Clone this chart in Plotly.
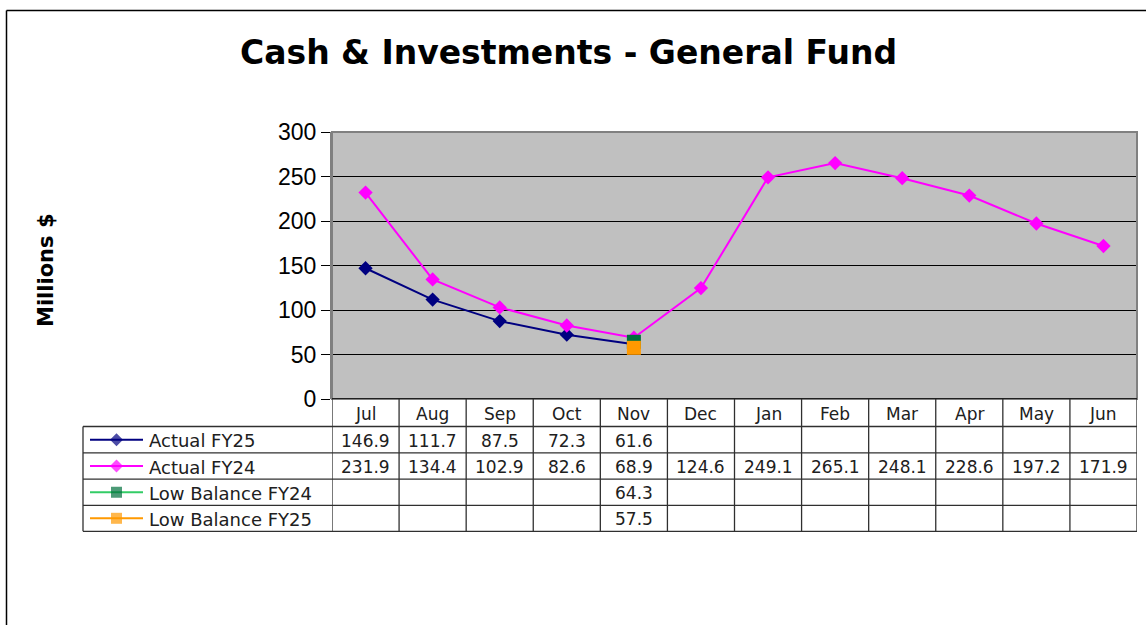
import plotly.graph_objects as go

# ---------------- data ----------------
months = ["Jul", "Aug", "Sep", "Oct", "Nov", "Dec", "Jan", "Feb", "Mar", "Apr", "May", "Jun"]
actual_fy25 = [146.9, 111.7, 87.5, 72.3, 61.6, None, None, None, None, None, None, None]
actual_fy24 = [231.9, 134.4, 102.9, 82.6, 68.9, 124.6, 249.1, 265.1, 248.1, 228.6, 197.2, 171.9]
low_balance_fy24 = [None, None, None, None, 64.3, None, None, None, None, None, None, None]
low_balance_fy25 = [None, None, None, None, 57.5, None, None, None, None, None, None, None]
series_names = ["Actual FY25", "Actual FY24", "Low Balance FY24", "Low Balance FY25"]
series_values = [actual_fy25, actual_fy24, low_balance_fy24, low_balance_fy25]
y_ticks = [0, 50, 100, 150, 200, 250, 300]

# ---------------- styles ----------------
line_colors = ["#000080", "#FF00FF", "#33CC66", "#FF9900"]
marker_colors = ["#000080", "#FF00FF", "#006F3C", "#FF9900"]
symbols = ["diamond", "diamond", "square", "square"]
marker_sizes = [11, 11, 14, 14]
legend_marker_sizes = [10, 10, 11, 11]

W, H = 1146, 625
FONT = "DejaVu Sans, Liberation Sans, Arial, sans-serif"
TICKFONT = "Liberation Sans, Arial, sans-serif"
PLOT_L, PLOT_R, PLOT_T, PLOT_B = 332, 1137, 132, 399
ROW_EDGES = [399, 426.5, 452.8, 479.2, 505.3, 531.3]
TABLE_L = 83

fig = go.Figure()

for name, vals, lc, mc, sym, ms in zip(series_names, series_values, line_colors,
                                       marker_colors, symbols, marker_sizes):
    fig.add_trace(go.Scatter(
        x=months, y=vals, name=name, mode="lines+markers",
        line=dict(color=lc, width=2), connectgaps=False,
        marker=dict(symbol=sym, size=ms, color=mc, line=dict(width=0)),
        xaxis="x", yaxis="y", showlegend=False, hoverinfo="skip"))

# legend keys inside the data table (pixel overlay axes)
for i, (lc, mc, sym, ms) in enumerate(zip(line_colors, marker_colors, symbols, legend_marker_sizes)):
    yc = (ROW_EDGES[i + 1] + ROW_EDGES[i + 2]) / 2
    fig.add_trace(go.Scatter(
        x=[90, 116.5, 143], y=[yc, yc, yc], mode="lines+markers",
        line=dict(color=lc, width=2),
        marker=dict(symbol=sym, size=[0, ms, 0], color=mc, line=dict(width=0)),
        xaxis="x2", yaxis="y2", showlegend=False, hoverinfo="skip"))

shapes = []
# figure frame (left & top)
shapes.append(dict(type="line", xref="x2", yref="y2", x0=6.5, x1=6.5, y0=10.5, y1=640,
                   line=dict(color="black", width=1.5)))
shapes.append(dict(type="line", xref="x2", yref="y2", x0=6.5, x1=1160, y0=10.5, y1=10.5,
                   line=dict(color="black", width=1.5)))
# plot area background and border
shapes.append(dict(type="rect", xref="x domain", yref="y domain", x0=0, x1=1, y0=0, y1=1,
                   fillcolor="#C0C0C0", line=dict(width=0), layer="below"))
shapes.append(dict(type="rect", xref="x domain", yref="y domain", x0=0, x1=1, y0=0, y1=1,
                   fillcolor="rgba(0,0,0,0)", line=dict(color="#808080", width=2), layer="above"))
shapes.append(dict(type="line", xref="x domain", yref="y", x0=0, x1=1, y0=0, y1=0,
                   line=dict(color="black", width=1.5), layer="above"))

# data table grid
tcol = "#303030"
for k in range(len(months) + 1):
    shapes.append(dict(type="line", xref="x", yref="y2", x0=k - 0.5, x1=k - 0.5,
                       y0=ROW_EDGES[0], y1=ROW_EDGES[-1], line=dict(color=tcol, width=1.3)))
shapes.append(dict(type="line", xref="x2", yref="y2", x0=TABLE_L, x1=TABLE_L,
                   y0=ROW_EDGES[1], y1=ROW_EDGES[-1], line=dict(color=tcol, width=1.3)))
for yy in ROW_EDGES[1:]:
    shapes.append(dict(type="line", xref="x2", yref="y2", x0=TABLE_L, x1=PLOT_R,
                       y0=yy, y1=yy, line=dict(color=tcol, width=1.3)))

annotations = []
# title
annotations.append(dict(text="<b>Cash &amp; Investments - General Fund</b>", xref="x2", yref="y2",
                        x=568, y=52, showarrow=False, xanchor="center", yanchor="middle",
                        font=dict(family=FONT, size=33, color="black")))
# y axis title
annotations.append(dict(text="<b>Millions $</b>", xref="x2", yref="y2", x=46, y=270,
                        textangle=-90, showarrow=False, xanchor="center", yanchor="middle",
                        font=dict(family=FONT, size=21, color="black")))
# month header
hy = (ROW_EDGES[0] + ROW_EDGES[1]) / 2
for m in months:
    annotations.append(dict(text=m, xref="x", yref="y2", x=m, y=hy + 1, showarrow=False,
                            xanchor="center", yanchor="middle",
                            font=dict(family=FONT, size=17, color="#202020")))
# rows
for i, (name, vals) in enumerate(zip(series_names, series_values)):
    yc = (ROW_EDGES[i + 1] + ROW_EDGES[i + 2]) / 2
    annotations.append(dict(text=name, xref="x2", yref="y2", x=147, y=yc + 1, showarrow=False,
                            xanchor="left", yanchor="middle",
                            font=dict(family=FONT, size=18, color="#202020")))
    for m, v in zip(months, vals):
        if v is None:
            continue
        annotations.append(dict(text=f"{v:.1f}", xref="x", yref="y2", x=m, y=yc + 1,
                                showarrow=False, xanchor="center", yanchor="middle",
                                font=dict(family=FONT, size=17, color="#202020")))

fig.update_layout(
    width=W, height=H, autosize=False,
    margin=dict(l=0, r=0, t=0, b=0, pad=0, autoexpand=False),
    paper_bgcolor="white", plot_bgcolor="rgba(0,0,0,0)",
    showlegend=False,
    xaxis=dict(domain=[PLOT_L / W, PLOT_R / W], type="category", categoryorder="array",
               categoryarray=months, range=[-0.5, len(months) - 0.5],
               showticklabels=False, ticks="", showgrid=False, zeroline=False,
               showline=False, anchor="y", automargin=False),
    yaxis=dict(domain=[1 - PLOT_B / H, 1 - PLOT_T / H], range=[0, 300], tickvals=y_ticks,
               ticks="outside", ticklen=9, tickcolor="black", tickwidth=1.3,
               tickfont=dict(family=TICKFONT, size=23, color="black"),
               showgrid=True, gridcolor="black", gridwidth=1, zeroline=False,
               showline=True, linecolor="#808080", linewidth=2, anchor="x", automargin=False),
    xaxis2=dict(domain=[0, 1], range=[0, W], visible=False, anchor="y2", fixedrange=True,
                automargin=False),
    yaxis2=dict(domain=[0, 1], range=[H, 0], visible=False, anchor="x2", fixedrange=True,
                automargin=False),
    shapes=shapes, annotations=annotations,
)

post = ("document.documentElement.style.margin='0';document.body.style.margin='0';"
        "document.body.style.overflow='hidden';"
        "var d=document.getElementById('{plot_id}');"
        "d.style.position='fixed';d.style.left='0px';d.style.top='0px';")

fig.write_html("out.html", post_script=post, config={"displayModeBar": False})
